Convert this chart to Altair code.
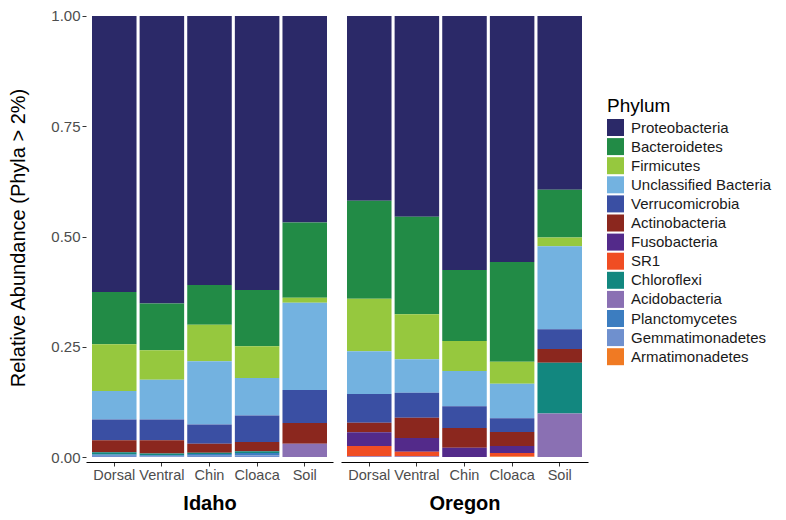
import altair as alt
import pandas as pd

phyla = ["Proteobacteria", "Bacteroidetes", "Firmicutes", "Unclassified Bacteria",
         "Verrucomicrobia", "Actinobacteria", "Fusobacteria", "SR1", "Chloroflexi",
         "Acidobacteria", "Planctomycetes", "Gemmatimonadetes", "Armatimonadetes"]
colors = ["#2B2968", "#228B46", "#96C83E", "#73B2E0", "#3A4FA3", "#8B271E",
          "#532A8A", "#F04D23", "#12877F", "#8A70B3", "#3C7DC0", "#6F90CE", "#F07A23"]

sites = ["Idaho"] * 5 + ["Oregon"] * 5
samples = ["Dorsal", "Ventral", "Chin", "Cloaca", "Soil"] * 2
sample_order = ["Dorsal", "Ventral", "Chin", "Cloaca", "Soil"]

proteobacteria   = [0.626, 0.652, 0.610, 0.621, 0.468, 0.419, 0.455, 0.576, 0.558, 0.394]
bacteroidetes    = [0.118, 0.106, 0.090, 0.128, 0.171, 0.222, 0.221, 0.161, 0.226, 0.108]
firmicutes       = [0.106, 0.067, 0.083, 0.072, 0.011, 0.119, 0.102, 0.068, 0.050, 0.020]
unclassified     = [0.065, 0.090, 0.143, 0.085, 0.198, 0.097, 0.076, 0.080, 0.078, 0.188]
verrucomicrobia  = [0.047, 0.047, 0.044, 0.060, 0.075, 0.065, 0.057, 0.049, 0.031, 0.045]
actinobacteria   = [0.027, 0.030, 0.020, 0.021, 0.047, 0.022, 0.046, 0.045, 0.032, 0.031]
fusobacteria     = [0.000, 0.000, 0.000, 0.000, 0.000, 0.031, 0.031, 0.021, 0.016, 0.000]
sr1              = [0.000, 0.000, 0.000, 0.000, 0.000, 0.023, 0.010, 0.000, 0.008, 0.000]
chloroflexi      = [0.005, 0.004, 0.003, 0.004, 0.000, 0.000, 0.000, 0.000, 0.000, 0.115]
acidobacteria    = [0.000, 0.000, 0.000, 0.000, 0.030, 0.002, 0.002, 0.000, 0.000, 0.099]
planctomycetes   = [0.003, 0.002, 0.004, 0.005, 0.000, 0.000, 0.000, 0.000, 0.000, 0.000]
gemmatimonadetes = [0.003, 0.002, 0.003, 0.004, 0.000, 0.000, 0.000, 0.000, 0.000, 0.000]
armatimonadetes  = [0.000, 0.000, 0.000, 0.000, 0.000, 0.000, 0.000, 0.000, 0.001, 0.000]

series = [proteobacteria, bacteroidetes, firmicutes, unclassified, verrucomicrobia,
          actinobacteria, fusobacteria, sr1, chloroflexi, acidobacteria,
          planctomycetes, gemmatimonadetes, armatimonadetes]

rows = []
for rank, (ph, vals) in enumerate(zip(phyla, series)):
    for site, sample, v in zip(sites, samples, vals):
        rows.append({"site": site, "sample": sample, "phylum": ph, "value": v, "rank": rank})
df = pd.DataFrame(rows)

FONT = "Liberation Sans"

yscale = alt.Scale(domain=[-0.0112, 1.0067], nice=False, zero=False)
xscale = alt.Scale(paddingInner=0.065, paddingOuter=0.126)

legend = alt.Legend(title="Phylum", orient="none", legendX=521, legendY=84,
                    symbolType="square", symbolSize=289,
                    symbolStrokeWidth=0, symbolOpacity=1,
                    titleFontSize=19, titleFont=FONT, titleFontWeight="normal",
                    titleColor="#000000", labelFontSize=15, labelFont=FONT,
                    labelColor="#1A1A1A", rowPadding=2.1, labelOffset=7,
                    titlePadding=3)


def panel(site, show_y):
    if show_y:
        yaxis = alt.Axis(values=[0, 0.25, 0.5, 0.75, 1.0], format=".2f",
                         title="Relative Abundance (Phyla > 2%)", titleFontSize=20,
                         titleFont=FONT, titleFontWeight="normal", titleColor="#000000",
                         titlePadding=22, labelFontSize=15, labelColor="#4D4D4D",
                         labelFont=FONT, domain=False, tickColor="#333333", tickSize=4,
                         labelPadding=2)
    else:
        yaxis = None
    return alt.Chart(df).transform_filter(alt.datum.site == site).mark_bar().encode(
        x=alt.X("sample:N", sort=sample_order, scale=xscale,
                axis=alt.Axis(title=site, titleFontSize=20, titleFontWeight="bold",
                              titleFont=FONT, titleColor="#000000", titlePadding=12,
                              labelAngle=0, labelFontSize=14.5, labelColor="#4D4D4D",
                              labelFont=FONT, domainColor="#000000", domainWidth=1.2,
                              tickColor="#333333", tickSize=4, labelPadding=2)),
        y=alt.Y("value:Q", stack="zero", scale=yscale, axis=yaxis),
        color=alt.Color("phylum:N", scale=alt.Scale(domain=phyla, range=colors),
                        legend=legend),
        order=alt.Order("rank:Q", sort="descending"),
    ).properties(width=247, height=449)


chart = alt.hconcat(panel("Idaho", True), panel("Oregon", False), spacing=8).configure_view(
    stroke=None
).configure_axis(grid=False).properties(
    padding={"left": 0, "top": 0, "right": 0, "bottom": 0}
)

chart.save("out.html", embed_options={"renderer": "svg", "actions": False})
